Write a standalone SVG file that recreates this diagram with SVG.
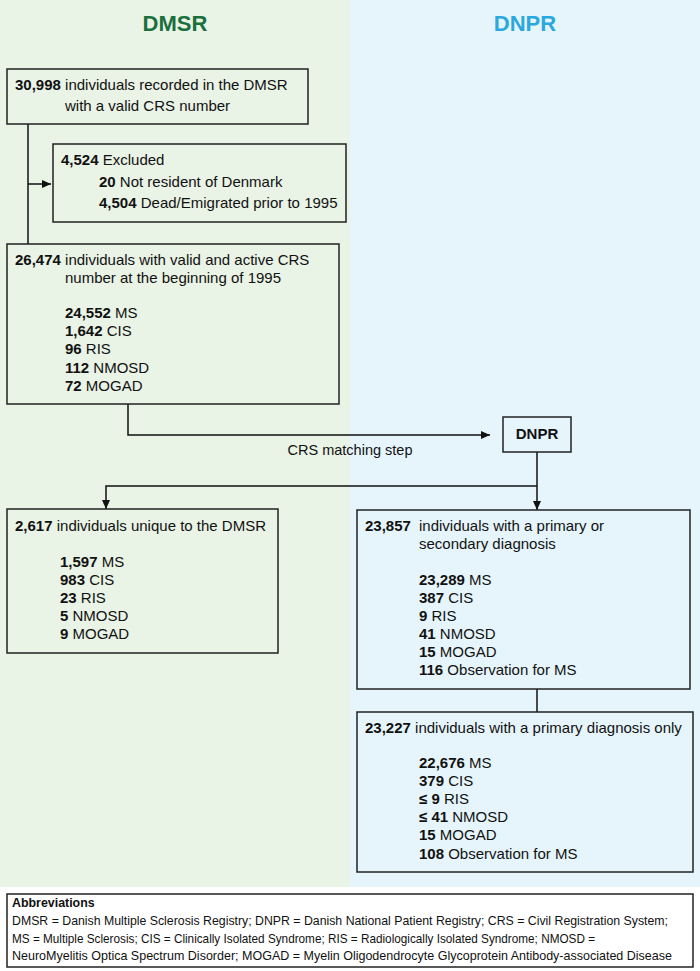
<svg xmlns="http://www.w3.org/2000/svg" width="700" height="971" viewBox="0 0 700 971">
<style>
  text { font-family: "Liberation Sans", Arial, sans-serif; fill: #111; }
  .t { font-size: 15px; }
  .b { font-weight: bold; }
  .box { fill: none; stroke: #222; stroke-width: 1.5; }
  .abox { fill: #fff; stroke: #222; stroke-width: 1.5; }
  .con { fill: none; stroke: #111; stroke-width: 1.5; }
  .ab { font-size: 12.4px; }
</style>
<defs>
  <marker id="arr" markerWidth="10" markerHeight="10" refX="9" refY="5" orient="auto" markerUnits="userSpaceOnUse">
    <path d="M0,1 L9,5 L0,9 Z" fill="#111"/>
  </marker>
</defs>
<rect x="0" y="0" width="700" height="971" fill="#ffffff"/>
<rect x="0" y="0" width="350" height="887" fill="#e9f3e6"/>
<rect x="350" y="0" width="350" height="887" fill="#e6f5fc"/>
<text x="175" y="31" text-anchor="middle" style="font-size:22px;font-weight:bold;fill:#1b6f3d">DMSR</text>
<text x="525" y="31" text-anchor="middle" style="font-size:22px;font-weight:bold;fill:#2aa8e0">DNPR</text>

<g id="connectors">
  <path class="con" d="M28,124 V244"/>
  <path class="con" d="M28,184 H51" marker-end="url(#arr)"/>
  <path class="con" d="M128,404 V435 H490" marker-end="url(#arr)"/>
  <path class="con" d="M537,452 V510" marker-end="url(#arr)"/>
  <path class="con" d="M537,486 H106 V509" marker-end="url(#arr)"/>
  <path class="con" d="M537,689 V712"/>
  <text class="t" x="350" y="455" text-anchor="middle" style="font-size:14.5px">CRS matching step</text>
</g>

<g id="n_dmsr_recorded">
  <rect class="box" x="7" y="69" width="301" height="55"/>
  <text class="t" x="15" y="90"><tspan class="b">30,998</tspan> individuals recorded in the DMSR</text>
  <text class="t" x="65" y="111">with a valid CRS number</text>
</g>

<g id="n_excluded">
  <rect class="box" x="53" y="144" width="293" height="78"/>
  <text class="t" x="61" y="165"><tspan class="b">4,524</tspan> Excluded</text>
  <text class="t" x="99" y="187"><tspan class="b">20</tspan> Not resident of Denmark</text>
  <text class="t" x="99" y="208"><tspan class="b">4,504</tspan> Dead/Emigrated prior to 1995</text>
</g>

<g id="n_active">
  <rect class="box" x="7" y="244" width="332" height="160"/>
  <text class="t" x="15" y="265"><tspan class="b">26,474</tspan> individuals with valid and active CRS</text>
  <text class="t" x="65" y="283">number at the beginning of 1995</text>
  <text class="t" x="65" y="318"><tspan class="b">24,552</tspan> MS</text>
  <text class="t" x="65" y="336"><tspan class="b">1,642</tspan> CIS</text>
  <text class="t" x="65" y="354"><tspan class="b">96</tspan> RIS</text>
  <text class="t" x="65" y="373"><tspan class="b">112</tspan> NMOSD</text>
  <text class="t" x="65" y="391"><tspan class="b">72</tspan> MOGAD</text>
</g>

<g id="n_dnpr">
  <rect class="box" x="503" y="417" width="68" height="35"/>
  <text class="t b" x="537" y="439" text-anchor="middle">DNPR</text>
</g>

<g id="n_unique">
  <rect class="box" x="7" y="509" width="271" height="144"/>
  <text class="t" x="15" y="531"><tspan class="b">2,617</tspan> individuals unique to the DMSR</text>
  <text class="t" x="60" y="567"><tspan class="b">1,597</tspan> MS</text>
  <text class="t" x="60" y="585"><tspan class="b">983</tspan> CIS</text>
  <text class="t" x="60" y="603"><tspan class="b">23</tspan> RIS</text>
  <text class="t" x="60" y="621"><tspan class="b">5</tspan> NMOSD</text>
  <text class="t" x="60" y="639"><tspan class="b">9</tspan> MOGAD</text>
</g>

<g id="n_primary_secondary">
  <rect class="box" x="357" y="510" width="333" height="179"/>
  <text class="t b" x="365" y="531">23,857</text>
  <text class="t" x="419" y="531">individuals with a primary or</text>
  <text class="t" x="419" y="549">secondary diagnosis</text>
  <text class="t" x="419" y="585"><tspan class="b">23,289</tspan> MS</text>
  <text class="t" x="419" y="603"><tspan class="b">387</tspan> CIS</text>
  <text class="t" x="419" y="621"><tspan class="b">9</tspan> RIS</text>
  <text class="t" x="419" y="639"><tspan class="b">41</tspan> NMOSD</text>
  <text class="t" x="419" y="657"><tspan class="b">15</tspan> MOGAD</text>
  <text class="t" x="419" y="675"><tspan class="b">116</tspan> Observation for MS</text>
</g>

<g id="n_primary_only">
  <rect class="box" x="357" y="712" width="336" height="160"/>
  <text class="t" x="365" y="733"><tspan class="b">23,227</tspan> individuals with a primary diagnosis only</text>
  <text class="t" x="419" y="768"><tspan class="b">22,676</tspan> MS</text>
  <text class="t" x="419" y="786"><tspan class="b">379</tspan> CIS</text>
  <text class="t" x="419" y="804"><tspan class="b">≤ 9</tspan> RIS</text>
  <text class="t" x="419" y="822"><tspan class="b">≤ 41</tspan> NMOSD</text>
  <text class="t" x="419" y="840"><tspan class="b">15</tspan> MOGAD</text>
  <text class="t" x="419" y="859"><tspan class="b">108</tspan> Observation for MS</text>
</g>

<g id="n_abbreviations">
  <rect class="abox" x="7" y="894" width="686" height="73"/>
  <text class="ab b" x="12" y="907">Abbreviations</text>
  <text class="ab" x="12" y="925" textLength="656" lengthAdjust="spacingAndGlyphs">DMSR = Danish Multiple Sclerosis Registry; DNPR = Danish National Patient Registry; CRS = Civil Registration System;</text>
  <text class="ab" x="12" y="943" textLength="583" lengthAdjust="spacingAndGlyphs">MS = Multiple Sclerosis; CIS = Clinically Isolated Syndrome; RIS = Radiologically Isolated Syndrome; NMOSD =</text>
  <text class="ab" x="12" y="960" textLength="660" lengthAdjust="spacingAndGlyphs">NeuroMyelitis Optica Spectrum Disorder; MOGAD = Myelin Oligodendrocyte Glycoprotein Antibody-associated Disease</text>
</g>
</svg>
